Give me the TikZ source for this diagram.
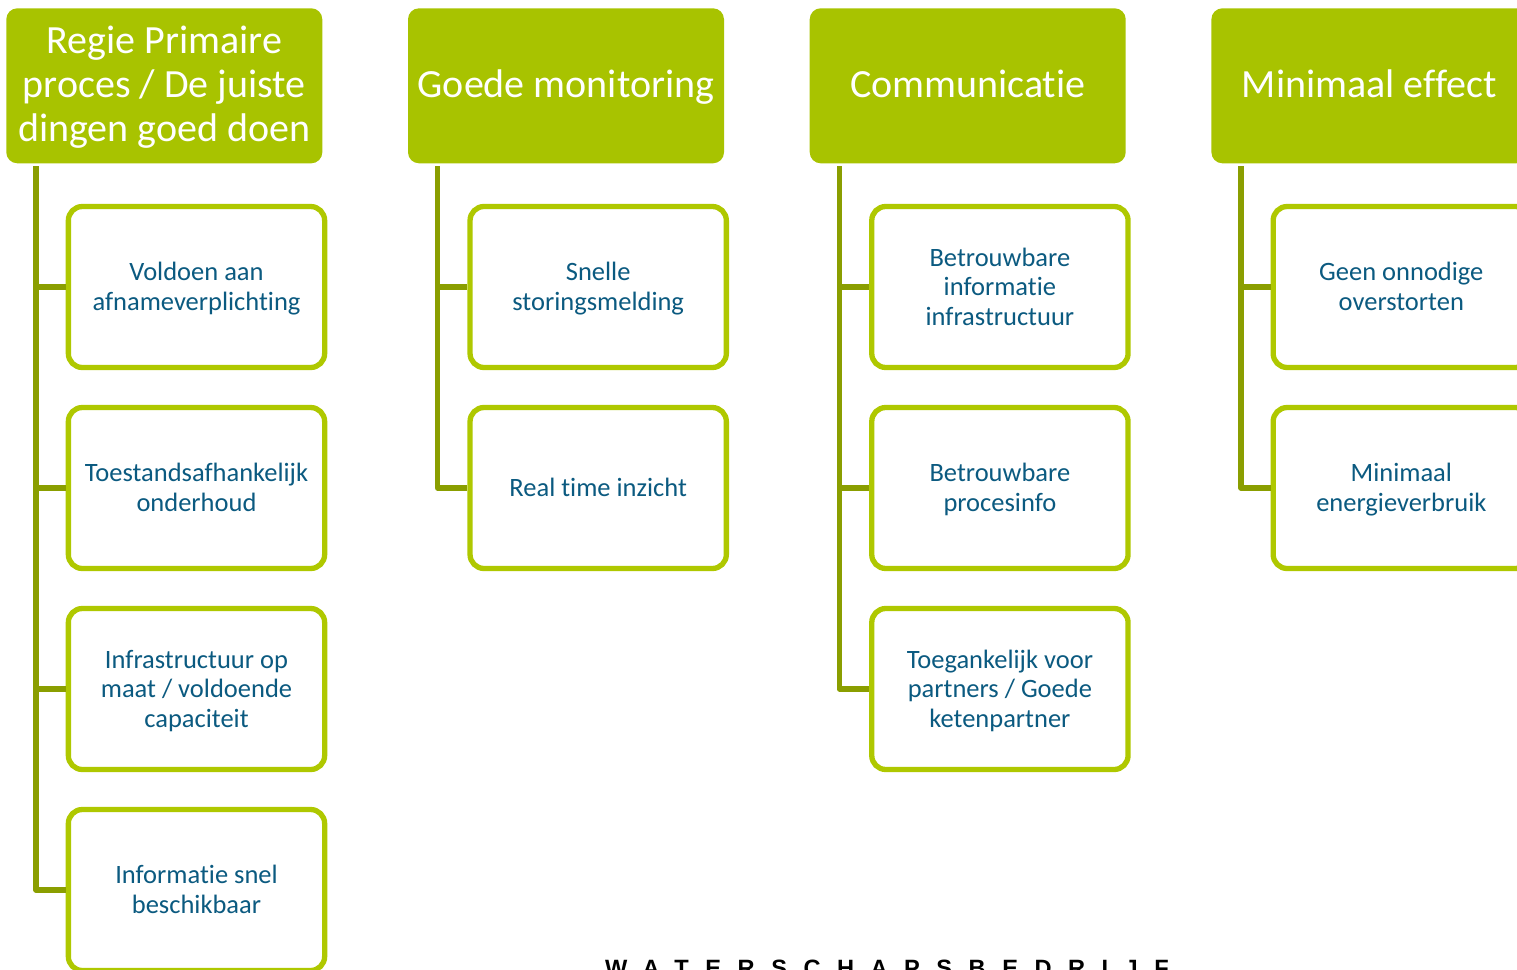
\documentclass[tikz,border=0pt]{standalone}
\usepackage{fontspec}
\setmainfont[Ligatures=NoCommon]{Carlito}
\newfontfamily\logofont[LetterSpace=70]{Liberation Sans}
\definecolor{headgreen}{HTML}{A8C300}
\definecolor{boxgreen}{HTML}{AFC800}
\definecolor{linegreen}{HTML}{8A9E00}
\definecolor{itemblue}{HTML}{0B5A80}
% text block moved down inside its box: extra height above it, same depth below
\newcommand\lowtext[2]{\raisebox{0pt}[\dimexpr\height+#1\relax][\depth]{\begin{tabular}{@{}c@{}}#2\end{tabular}}}
\newcommand\headtext[1]{\lowtext{6.4pt}{#1}}
\newcommand\itemtext[1]{\lowtext{5.4pt}{#1}}
\tikzset{
  header/.style={fill=headgreen,draw=none,rounded corners=11pt,minimum width=316pt,minimum height=155pt,inner sep=0pt,
    text=white,font=\fontsize{40}{44}\selectfont},
  item/.style={fill=white,draw=boxgreen,line width=5.3pt,rounded corners=14pt,minimum width=256.3pt,minimum height=161pt,inner sep=0pt,
    text=itemblue,font=\fontsize{26.5}{29.5}\selectfont},
  conn/.style={draw=linegreen,line width=5.5pt,line join=round}
}
\begin{document}
\begin{tikzpicture}[x=1pt,y=-1pt]
\useasboundingbox (0,0) rectangle (1517,969);
\clip (0,0) rectangle (1517,969);
% headers
\node[header] (h1) at (164.3,85.8) {\headtext{Regie Primaire\\proces / De juiste\\dingen goed doen}};
\node[header] (h2) at (566,85.8) {\headtext{Goede monitoring}};
\node[header] (h3) at (967.7,85.8) {\headtext{Communicatie}};
\node[header] (h4) at (1369.4,85.8) {\headtext{Minimaal effect}};
% spine starts
\coordinate (s1) at (36,166);
\coordinate (s2) at (437.7,166);
\coordinate (s3) at (839.4,166);
\coordinate (s4) at (1241.1,166);
% items column 1
\node[item] (a1) at (196.5,287) {\itemtext{Voldoen aan\\afnameverplichting}};
\node[item] (a2) at (196.5,488) {\itemtext{Toestandsafhankelijk\\onderhoud}};
\node[item] (a3) at (196.5,689) {\itemtext{Infrastructuur op\\maat / voldoende\\capaciteit}};
\node[item] (a4) at (196.5,890) {\itemtext{Informatie snel\\beschikbaar}};
% column 2
\node[item] (b1) at (598.2,287) {\itemtext{Snelle\\storingsmelding}};
\node[item] (b2) at (598.2,488) {\itemtext{Real time inzicht}};
% column 3
\node[item] (c1) at (999.9,287) {\itemtext{Betrouwbare\\informatie\\infrastructuur}};
\node[item] (c2) at (999.9,488) {\itemtext{Betrouwbare\\procesinfo}};
\node[item] (c3) at (999.9,689) {\itemtext{Toegankelijk voor\\partners / Goede\\ketenpartner}};
% column 4
\node[item] (d1) at (1401.3,287) {\itemtext{Geen onnodige\\overstorten}};
\node[item] (d2) at (1401.3,488) {\itemtext{Minimaal\\energieverbruik}};
% connectors
\foreach \s/\t in {s1/a1,s1/a2,s1/a3,s1/a4,s2/b1,s2/b2,s3/c1,s3/c2,s3/c3,s4/d1,s4/d2}
  \draw[conn] (\s) |- (\t.west);
% logo text, cut off by the picture edge
\node[anchor=base west,inner sep=0pt,font=\logofont\bfseries\fontsize{23.6}{23.6}\selectfont,text=black] (logo) at (605,976.5) {WATERSCHAPSBEDRIJF};
\end{tikzpicture}
\end{document}
